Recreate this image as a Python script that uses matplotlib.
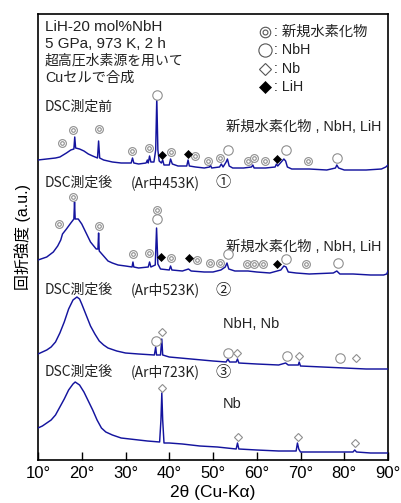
import matplotlib
matplotlib.use("Agg")
import matplotlib.pyplot as plt

plt.rcParams['font.family'] = ['Liberation Sans', 'Noto Sans CJK JP', 'DejaVu Sans']
JP = ['Noto Sans CJK JP', 'DejaVu Sans']

# ---- XRD patterns (2theta in degrees, intensity in arbitrary units) ----
tt_before = [10, 12, 14, 15, 16.5, 17.5, 18.2, 18.4, 18.6, 19.5, 20.5, 21.5, 22.5, 23.6, 23.85, 24.1,
             25, 27, 29, 31.3, 31.6, 31.9, 33, 34.7, 35.0, 35.2, 35.5, 35.8, 36.5, 36.9, 37.15, 37.4,
             37.7, 38.2, 38.5, 38.8, 40.0, 40.3, 40.7, 42, 44.0, 44.3, 44.6, 46, 48, 49.2, 49.4, 49.7,
             51.5, 51.9, 52.3, 53.0, 53.3, 53.7, 54.5, 57, 58.8, 59.1, 59.4, 62, 64.2, 64.5, 64.8,
             65.8, 66.2, 66.6, 67.0, 68, 72, 76, 78.0, 78.3, 78.7, 80, 85, 88.5, 89.5, 90]
int_before = [10, 11, 12, 13, 17, 20, 21, 33, 22, 21, 19, 16, 14, 12, 29, 12,
              10, 8, 7, 7, 12, 7, 6, 7, 10, 7, 14, 8, 8, 20, 72, 20,
              9, 7, 10, 5, 5, 11, 6, 4, 4, 10, 4, 3, 2, 3, 5, 2,
              3, 6, 3, 8, 11, 4, 2, 2, 3, 5, 2, 2, 3, 6, 4,
              9, 11, 9, 3, 1, 1, 0, 2, 5, 2, 0, 0, 1, 3, 5]

tt_453 = [10, 12, 13.5, 14.5, 15.2, 15.6, 16.5, 17.5, 18.2, 18.35, 18.5, 19.2, 20, 21, 22, 23.3, 23.7,
          23.85, 24.0, 25, 26, 27, 28.3, 30, 31.5, 31.7, 31.9, 33, 35.2, 35.5, 35.8, 36.8, 37.1, 37.4,
          38, 40, 40.3, 40.6, 43, 44.4, 45, 48, 50, 51.8, 52.8, 53.2, 53.6, 55, 58, 60, 63, 65.5,
          66.2, 66.7, 67.2, 69, 72, 77.5, 78.3, 79, 82, 86, 89, 89.7, 90]
int_453 = [16, 19, 24, 30, 36, 42, 47, 53, 57, 74, 57, 57, 52, 43, 34, 27, 27,
           43, 25, 20, 15, 13, 11, 10, 9, 14, 9, 8, 9, 14, 9, 11, 48, 12,
           7, 6, 10, 6, 5, 7, 5, 4, 4, 6, 9, 13, 7, 5, 5, 4, 3, 6,
           10, 9, 4, 3, 2, 3, 5, 2, 2, 1, 1, 2, 5]

tt_523 = [10, 12, 13, 14, 15, 16, 17, 18, 18.9, 19.5, 20, 21, 22, 23, 24, 25, 26, 28, 30, 33,
          36.6, 36.9, 37.1, 38.0, 38.3, 38.5, 40, 45, 50, 53.0, 53.4, 53.8, 55.3, 55.6, 55.9,
          60, 65, 66.6, 67.2, 69.5, 69.7, 70, 75, 80, 85, 90]
int_523 = [16, 20, 23, 28, 37, 48, 61, 70, 73, 71, 66, 55, 44, 36, 29, 25, 22, 19, 17, 16,
           15, 23, 15, 15, 31, 15, 13, 11, 9, 8, 11, 8, 8, 11, 7,
           6, 5, 7, 5, 5, 8, 4, 3, 2, 1, 1]

tt_723 = [10, 11, 12, 13, 14, 15, 16, 17, 18, 18.5, 19.5, 20.5, 21.5, 22.5, 23.5, 24.5, 25.5, 27,
          29, 31, 35, 37.8, 38.1, 38.3, 38.5, 38.8, 40, 43, 47, 51, 55.3, 55.6, 55.9, 60, 65,
          69.0, 69.3, 69.6, 70, 75, 82, 82.4, 82.8, 86, 90]
int_723 = [27, 29, 32, 35, 40, 48, 56, 65, 71, 73, 70, 63, 54, 45, 35, 27, 23, 20,
           17, 16, 14, 13, 35, 62, 35, 12, 12, 11, 9, 8, 6, 12, 6, 5, 4,
           4, 12, 6, 3, 3, 3, 5, 3, 2, 2]

# ---- phase markers: (2theta, height above the pattern baseline) ----
new_before = [(15.5, 27), (18.0, 40), (23.9, 41), (31.5, 19), (35.4, 22), (40.4, 18), (45.9, 14),
              (48.9, 9), (51.6, 12), (58.0, 9), (59.4, 12), (61.9, 9), (71.7, 9)]
nbh_before = [(37.2, 75), (53.4, 20), (66.7, 20), (78.3, 12)]
lih_before = [(38.3, 15), (44.3, 16), (64.6, 11)]

new_453 = [(14.8, 52), (18.0, 79), (23.9, 50), (31.7, 22), (35.4, 23), (37.1, 66), (40.4, 18),
           (46.3, 16), (49.4, 13), (51.6, 13), (57.8, 12), (59.4, 12), (61.4, 12), (71.3, 12)]
nbh_453 = [(37.1, 57), (53.4, 22), (66.6, 17), (78.6, 13)]
lih_453 = [(38.1, 19), (44.5, 18), (64.6, 12)]

nbh_523 = [(36.9, 29), (53.4, 17), (66.9, 14), (79.0, 12)]
nb_523 = [(38.3, 38), (55.5, 17), (69.7, 14), (82.7, 12)]

nb_723 = [(38.3, 67), (55.6, 18), (69.4, 18), (82.4, 12)]

xticks = [10, 20, 30, 40, 50, 60, 70, 80, 90]

LINE = '#14149e'
GRAY = '#8f8f8f'
TEXT = '#222222'

fig = plt.figure(figsize=(4.01, 5.03), dpi=100)
ax = fig.add_axes([38 / 401, 1 - 460 / 503, 350 / 401, 446 / 503])
ax.set_xlim(10, 90)
ax.set_ylim(0, 446)

# vertical offsets of the stacked patterns
offsets = {'before': 290, '453': 184, '523': 90, '723': 5}

marker_sizes = {'new': (5.6, 2.6), 'nbh': 6.8, 'nb': 4.2, 'lih': 4.4}
legend_scale = {'new': 1.35, 'nbh': 1.4, 'nb': 1.45, 'lih': 1.5}


def draw_marker(kind, x, y, scale=1.0, color=GRAY):
    if kind == 'new':
        outer, inner = marker_sizes['new']
        ax.plot([x], [y], 'o', ms=outer * scale, mfc='white', mec=color, mew=0.8, zorder=5)
        ax.plot([x], [y], 'o', ms=inner * scale, mfc='none', mec=color, mew=0.8, zorder=6)
    elif kind == 'nbh':
        ax.plot([x], [y], 'o', ms=marker_sizes['nbh'] * scale, mfc='white', mec=color, mew=0.8, zorder=5)
    elif kind == 'nb':
        ax.plot([x], [y], 'D', ms=marker_sizes['nb'] * scale, mfc='white', mec=color, mew=0.8, zorder=5)
    elif kind == 'lih':
        ax.plot([x], [y], 'D', ms=marker_sizes['lih'] * scale, mfc='black', mec='black', mew=0.5, zorder=5)


patterns = [
    (tt_before, int_before, offsets['before'],
     [('new', new_before), ('nbh', nbh_before), ('lih', lih_before)]),
    (tt_453, int_453, offsets['453'],
     [('new', new_453), ('nbh', nbh_453), ('lih', lih_453)]),
    (tt_523, int_523, offsets['523'], [('nbh', nbh_523), ('nb', nb_523)]),
    (tt_723, int_723, offsets['723'], [('nb', nb_723)]),
]

for tt, inten, off, marks in patterns:
    ax.plot(tt, [v + off for v in inten], color=LINE, lw=1.05, zorder=3)
    for kind, pts in marks:
        for x, h in pts:
            draw_marker(kind, x, h + off)

# sample description
desc = [("LiH-20 mol%NbH", 11), ("5 GPa, 973 K, 2 h", 11), ("超高圧水素源を用いて", 10), ("Cuセルで合成", 10.3)]
for i, (s, fs) in enumerate(desc):
    ax.text(11.6, 433 - i * 17, s, fontsize=fs, va='center', ha='left', color=TEXT)

# legend
legend_items = [('new', '新規水素化物'), ('nbh', 'NbH'), ('nb', 'Nb'), ('lih', 'LiH')]
for i, (kind, label) in enumerate(legend_items):
    y = 428 - i * 18.3
    draw_marker(kind, 61.9, y, scale=legend_scale[kind], color='#555555' if kind != 'lih' else 'black')
    ax.text(64.0, y, ': ' + label, fontsize=10.3, va='center', ha='left', color=TEXT)

# pattern labels
ax.text(11.6, 353, 'DSC測定前', fontsize=10, va='center', family=JP, color=TEXT)
cond = [(277, '(Ar中453K)', '①'), (170, '(Ar中523K)', '②'), (88, '(Ar中723K)', '③')]
for y, c, num in cond:
    ax.text(11.6, y, 'DSC測定後', fontsize=10, va='center', family=JP, color=TEXT)
    ax.text(31.2, y, c, fontsize=10, va='center', family=JP, color=TEXT)
    ax.text(52.3, y, num, fontsize=11, va='center', ha='center', family=JP, color=TEXT)

ax.text(88.6, 333, '新規水素化物 , NbH, LiH', fontsize=10.3, va='center', ha='right', color=TEXT)
ax.text(88.6, 213, '新規水素化物 , NbH, LiH', fontsize=10.3, va='center', ha='right', color=TEXT)
ax.text(52.2, 136, 'NbH, Nb', fontsize=10.5, va='center', ha='left', color=TEXT)
ax.text(52.2, 56, 'Nb', fontsize=10.5, va='center', ha='left', color=TEXT)

# axes styling
ax.set_yticks([])
ax.set_xticks(xticks)
ax.set_xticklabels([f'{v}°' for v in xticks])
ax.tick_params(axis='x', direction='in', length=6, width=1, labelsize=12, pad=4)
for sp in ax.spines.values():
    sp.set_linewidth(1.2)
ax.set_xlabel('2θ (Cu-Kα)', fontsize=12.5, labelpad=3)
ax.set_ylabel('回折強度 (a.u.)', fontsize=11.5, labelpad=5)

fig.savefig('out.png', dpi=100)
